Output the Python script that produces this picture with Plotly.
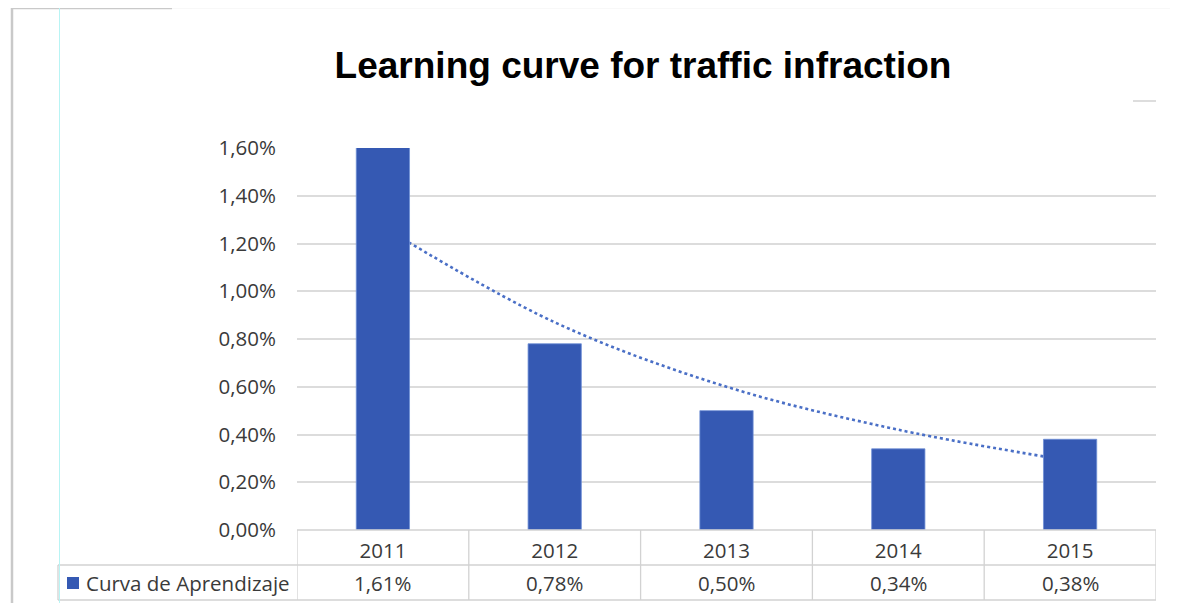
import plotly.graph_objects as go

# data
years = ["2011", "2012", "2013", "2014", "2015"]
rate_pct = [1.61, 0.78, 0.50, 0.34, 0.38]
# exponential trendline as it appears in the picture (value at each year)
trend_pct = [1.27, 0.87, 0.60, 0.42, 0.29]
y_ticks = [0.0, 0.2, 0.4, 0.6, 0.8, 1.0, 1.2, 1.4, 1.6]
series_name = "Curva de Aprendizaje"
title = "Learning curve for traffic infraction"

# the page body keeps its 8px default margin, so the figure is drawn
# 16px smaller than the window and page positions are shifted by 8px
OFF = 8
W, H = 1178 - 2 * OFF, 611 - 2 * OFF
PL, PR, PT, PB = 297, 1156, 148, 530   # plot area, page pixels

BAR = "#3559B3"
TREND = "#4a6fc6"
TXT = "#3a3a3a"
GRID = "#dcdcdc"
BORDER = "#d2d2d2"
FONT = "Open Sans"
FS = 20.5


def px(X):
    return (X - PL) / (PR - PL)


def py(Y):
    return (PB - Y) / (PB - PT)


def pct(v):
    return f"{v:.2f}%".replace(".", ",")


fig = go.Figure()

# trendline on the main axes so the bars (overlay axes) sit on top of it
fig.add_trace(go.Scatter(
    x=years, y=trend_pct, mode="lines", xaxis="x", yaxis="y",
    line=dict(color=TREND, width=2.6, dash="dot", shape="spline"),
    showlegend=False, hoverinfo="skip",
))
fig.add_trace(go.Bar(
    x=years, y=rate_pct, xaxis="x2", yaxis="y2", name=series_name,
    marker=dict(color=BAR, line=dict(color="#6f8fd6", width=0.8)),
    width=0.31, showlegend=False,
))

shapes = []


def line(x0, y0, x1, y1, color=BORDER, width=1.3, xref="paper"):
    shapes.append(dict(type="line", xref=xref, yref="paper",
                       x0=x0, y0=y0, x1=x1, y1=y1,
                       line=dict(color=color, width=width), layer="above"))


# data table grid
for i in range(len(years) + 1):
    line(i - 0.5, py(PB), i - 0.5, py(600), xref="x")
line(px(58), py(565), px(58), py(600))
line(px(58), py(565), 1, py(565))
line(px(58), py(600), 1, py(600))
line(0, py(PB), 1, py(PB))

# legend key square
shapes.append(dict(type="rect", xref="paper", yref="paper",
                   x0=px(67), x1=px(79), y0=py(577), y1=py(589),
                   fillcolor=BAR, line=dict(width=0), layer="above"))

# outer frame remnants of the screenshot
line(px(12), py(8), px(12), py(611), color="#c9c9c9", width=2.5)
line(px(11), py(8), px(172), py(8), color="#c9c9c9", width=2.5)
line(px(172), py(7.5), px(1170), py(7.5), color="#e2e2e2", width=1.5)
line(px(59.5), py(OFF), px(59.5), py(603), color="#b8f4f4", width=1)
line(px(1133), py(101), px(1156), py(101), color="#dddddd", width=2)

annotations = []
for i, v in enumerate(rate_pct):
    annotations.append(dict(x=i, xref="x", y=py(582.5), yref="paper",
                            xanchor="center", yanchor="middle",
                            text=pct(v), showarrow=False,
                            font=dict(family=FONT, size=FS, color=TXT)))
annotations.append(dict(x=px(84), xref="paper", y=py(582.5), yref="paper",
                        xanchor="left", yanchor="middle",
                        text=series_name, showarrow=False,
                        font=dict(family=FONT, size=FS, color=TXT)))

fig.update_layout(
    width=W, height=H,
    margin=dict(l=PL - OFF, r=W + OFF - PR, t=PT - OFF, b=H + OFF - PB,
                autoexpand=False),
    paper_bgcolor="white", plot_bgcolor="white",
    separators=",.",
    title=dict(text=f"<b>{title}</b>", x=(643 - OFF) / W, xanchor="center",
               y=1 - (65 - OFF) / H, yanchor="middle",
               font=dict(family="Liberation Sans", size=37, color="#000000")),
    xaxis=dict(type="category", categoryorder="array", categoryarray=years,
               range=[-0.5, 4.5], showgrid=False, zeroline=False,
               showline=False, ticks="", ticklabelstandoff=6,
               tickfont=dict(family=FONT, size=FS, color=TXT),
               fixedrange=True, automargin=False),
    yaxis=dict(range=[0, 1.6], tickvals=y_ticks,
               ticktext=[pct(v) for v in y_ticks],
               showgrid=True, gridcolor=GRID, gridwidth=1.6,
               zeroline=False, showline=False, ticks="",
               ticklabelstandoff=20,
               tickfont=dict(family=FONT, size=FS, color=TXT),
               fixedrange=True, automargin=False),
    xaxis2=dict(type="category", categoryorder="array", categoryarray=years,
                range=[-0.5, 4.5], overlaying="x", visible=False),
    yaxis2=dict(range=[0, 1.6], overlaying="y", visible=False),
    shapes=shapes,
    annotations=annotations,
)

fig.write_html("out.html")
